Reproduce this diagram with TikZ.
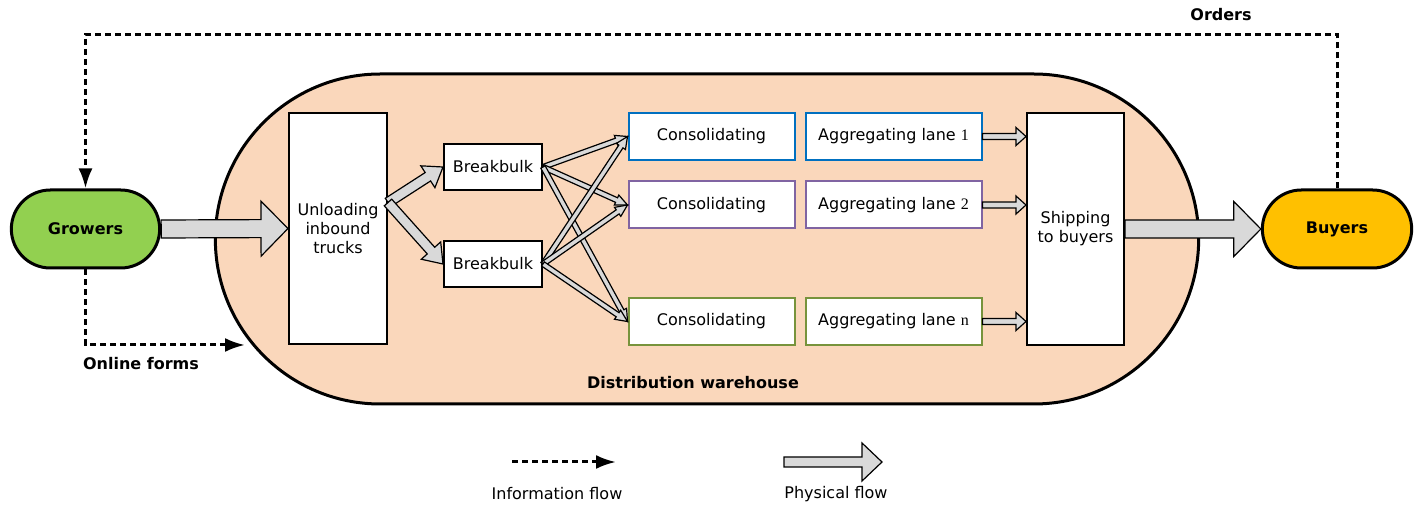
\documentclass[tikz,border=0pt]{standalone}
\usepackage{fontspec}
\setmainfont{DejaVu Sans}
\newfontfamily\numfont{Liberation Serif}
\usepackage{xcolor}
\usepackage{tikz}
\usetikzlibrary{shapes.geometric, shapes.misc, arrows, arrows.meta, calc, positioning}
\definecolor{almacencol}{HTML}{FAD7BB}
\definecolor{verdegr}{HTML}{92D050}
\definecolor{amarillo}{HTML}{FFC000}
\definecolor{azul}{HTML}{0070C0}
\definecolor{morado}{HTML}{8064A2}
\definecolor{oliva}{HTML}{77933C}
\definecolor{grisflujo}{HTML}{D9D9D9}
\tikzstyle{negrita} = [font=\fontsize{16}{19}\selectfont\bfseries]
\tikzstyle{extremo} = [rounded rectangle, minimum width=155pt, minimum height=78pt, draw=black, line width=3pt, negrita]
\tikzstyle{caja} = [rectangle, minimum width=98pt, minimum height=46pt, text centered, draw=black, fill=white, line width=2pt]
\tikzstyle{carril} = [caja, minimum width=166pt, minimum height=47pt]
\tikzstyle{agrega} = [caja, minimum width=176pt, minimum height=47pt]
\tikzstyle{flujo} = [draw=black, fill=grisflujo, line width=1.2pt]
\tikzstyle{info} = [line width=3pt, dash pattern=on 6pt off 4pt, -{Latex[length=20pt,width=14pt]}]

% flecha de bloque: (desde)(hasta) medio ancho, medio ancho de punta, largo de punta
\newcommand{\flecha}[5]{%
  \coordinate (flh) at ($(#2)!#5!(#1)$);
  \draw[flujo] ($(#1)!#3!90:(#2)$) -- ($(flh)!#3!-90:(#1)$) -- ($(flh)!#4!-90:(#1)$)
    -- (#2) -- ($(flh)!#4!90:(#1)$) -- ($(flh)!#3!90:(#1)$) -- ($(#1)!#3!-90:(#2)$) -- cycle;
}

\begin{document}
\begin{tikzpicture}[x=1pt, y=1pt, every node/.style={font=\fontsize{16}{19}\selectfont}]

        \useasboundingbox (0,0) rectangle (1424,506);

        % Almacén
        \node (almacen) [rounded rectangle, minimum width=990pt, minimum height=330pt, draw=black, line width=3pt, fill=almacencol] at (707,267) {};
        \node (almacenlbl) [negrita] at (693,123) {Distribution warehouse};

        % Productores y compradores
        \node (growers) [extremo, fill=verdegr] at (85.5,277) {Growers};
        \node (buyers) [extremo, fill=amarillo, minimum width=156pt] at (1337,277) {Buyers};

        % Nodos del almacén
        \node (unload) [caja, minimum height=231pt, align=center] at (338,277.5) {Unloading\\inbound\\trucks};
        \node (bb1) [caja] at (493,339) {Breakbulk};
        \node (bb2) [caja] at (493,242) {Breakbulk};
        \node (cons1) [carril, draw=azul] at (711.5,369.5) {Consolidating};
        \node (cons2) [carril, draw=morado] at (711.5,301) {Consolidating};
        \node (cons3) [carril, draw=oliva] at (711.5,184.5) {Consolidating};
        \node (agg1) [agrega, draw=azul, right=9pt of cons1] {Aggregating lane {\numfont 1}};
        \node (agg2) [agrega, draw=morado, right=9pt of cons2] {Aggregating lane {\numfont 2}};
        \node (agg3) [agrega, draw=oliva, right=9pt of cons3] {Aggregating lane {\numfont n}};
        \node (ship) [caja, minimum width=97pt, minimum height=232pt, align=center] at (1075.5,277) {Shipping\\to buyers};

        % Flujo físico
        \flecha{growers.east}{unload.west}{9pt}{27.5pt}{27pt}
        \flecha{ship.east}{buyers.west}{9pt}{27.5pt}{27pt}
        \coordinate (salida) at ($(unload.east)+(0,26)$);
        \flecha{salida}{bb1.west}{5pt}{13pt}{18pt}
        \flecha{salida}{bb2.west}{5pt}{13pt}{18pt}
        \foreach \b in {bb1,bb2}
            \foreach \c in {cons1,cons2,cons3}
                \flecha{\b.east}{\c.west}{2.5pt}{5.5pt}{12pt};
        \foreach \a in {agg1,agg2,agg3} {
            \coordinate (e\a) at (\a.east -| ship.west);
            \flecha{\a.east}{e\a}{3pt}{9pt}{10pt}
        }

        % Flujo de información
        \draw [info] (buyers.north) -- ++(0,154) -| (growers.north);
        \node (orders) [negrita] at (1221,491) {Orders};
        \coordinate (formsend) at (245,161);
        \draw [info] (growers.south) |- (formsend);
        \node (forms) [negrita] at (141,142) {Online forms};

        % Leyenda
        \coordinate (infoA) at (512,44);
        \coordinate (infoB) at (616,44);
        \draw [info] (infoA) -- (infoB);
        \node (infolbl) at (557,12) {Information flow};
        \coordinate (fisA) at (784,44);
        \coordinate (fisB) at (882,44);
        \flecha{fisA}{fisB}{5pt}{19pt}{20pt}
        \node (fislbl) at (836,12) {Physical flow};

    \end{tikzpicture}
\end{document}
